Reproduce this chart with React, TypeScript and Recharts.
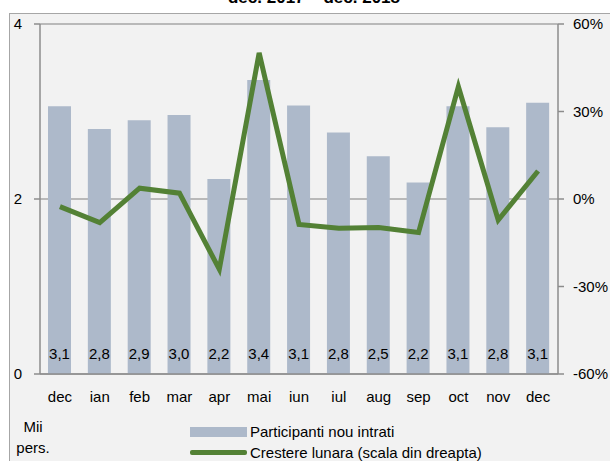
import { ComposedChart, Bar, Line, XAxis, YAxis, CartesianGrid, LabelList } from "recharts"

const months = ["dec", "ian", "feb", "mar", "apr", "mai", "iun", "iul", "aug", "sep", "oct", "nov", "dec"]
const participanti = [3.06, 2.8, 2.9, 2.96, 2.23, 3.36, 3.07, 2.76, 2.49, 2.19, 3.06, 2.82, 3.1]
const crestere = [-2.6, -8.1, 3.7, 2.0, -24.1, 50.1, -8.7, -10.0, -9.8, -11.5, 38.5, -7.2, 9.6]
const leftTicks = [0, 2, 4]
const rightTicks = [-60, -30, 0, 30, 60]

const data = months.map((m, i) => ({ luna: m, participanti: participanti[i], crestere: crestere[i] }))

const font = "'Liberation Sans', Arial, sans-serif"
const barColor = "#adb9ca"
const lineColor = "#538135"
const axisColor = "#8c8c8c"

export default function App() {
  return (
    <div style={{ position: "absolute", left: 0, top: 0, width: 610, height: 461, background: "#fff", overflow: "hidden", fontFamily: font }}>
      <div style={{ position: "absolute", left: 9, top: 13, width: 640, height: 480, background: "#f2f2f2", border: "1.5px solid #a6a6a6" }} />
      <div style={{ position: "absolute", left: 0, width: 628, top: -12, textAlign: "center", fontWeight: "bold", fontSize: 17, color: "#000" }}>
        dec. 2017 – dec. 2018
      </div>
      <div style={{ position: "absolute", left: 0, top: 0 }}>
        <ComposedChart width={610} height={461} data={data} margin={{ top: 24, left: 10, right: 0, bottom: 57 }}>
          <CartesianGrid yAxisId="left" vertical={false} stroke="#a6a6a6" strokeWidth={1.5} />
          <XAxis dataKey="luna" tickLine={false} axisLine={{ stroke: axisColor, strokeWidth: 1.5 }} height={30}
            tick={{ fill: "#000", fontSize: 15, fontFamily: font }} tickMargin={11} interval={0} />
          <YAxis yAxisId="left" domain={[0, 4]} ticks={leftTicks} width={30} tickSize={6} tickMargin={12}
            axisLine={{ stroke: axisColor, strokeWidth: 1.5 }} tickLine={{ stroke: axisColor, strokeWidth: 1.5 }}
            tick={{ fill: "#000", fontSize: 15, fontFamily: font }} />
          <YAxis yAxisId="right" orientation="right" domain={[-60, 60]} ticks={rightTicks} width={52} tickSize={6} tickMargin={9}
            tickFormatter={(v: number) => `${v}%`}
            axisLine={{ stroke: axisColor, strokeWidth: 1.5 }} tickLine={{ stroke: axisColor, strokeWidth: 1.5 }}
            tick={{ fill: "#000", fontSize: 15, fontFamily: font }} />
          <Bar yAxisId="left" dataKey="participanti" fill={barColor} barSize={23} isAnimationActive={false}>
            <LabelList dataKey="participanti" position="insideBottom" offset={15}
              formatter={(v: number) => v.toFixed(1).replace(".", ",")}
              style={{ fill: "#000", fontSize: 15, fontFamily: font }} />
          </Bar>
          <Line yAxisId="right" dataKey="crestere" stroke={lineColor} strokeWidth={5} dot={false} isAnimationActive={false} />
        </ComposedChart>
      </div>
      <div style={{ position: "absolute", left: 13, top: 416, width: 40, textAlign: "center", fontSize: 15, lineHeight: "21px" }}>
        Mii<br />pers.
      </div>
      <div style={{ position: "absolute", left: 190, top: 421, fontSize: 15, lineHeight: "21px" }}>
        <div style={{ display: "flex", alignItems: "center" }}>
          <span style={{ display: "inline-block", width: 57, height: 10, background: barColor, marginRight: 3 }} />
          Participanti nou intrati
        </div>
        <div style={{ display: "flex", alignItems: "center" }}>
          <span style={{ display: "inline-block", width: 57, height: 5, background: lineColor, borderRadius: 2, marginRight: 3 }} />
          Crestere lunara (scala din dreapta)
        </div>
      </div>
    </div>
  )
}
